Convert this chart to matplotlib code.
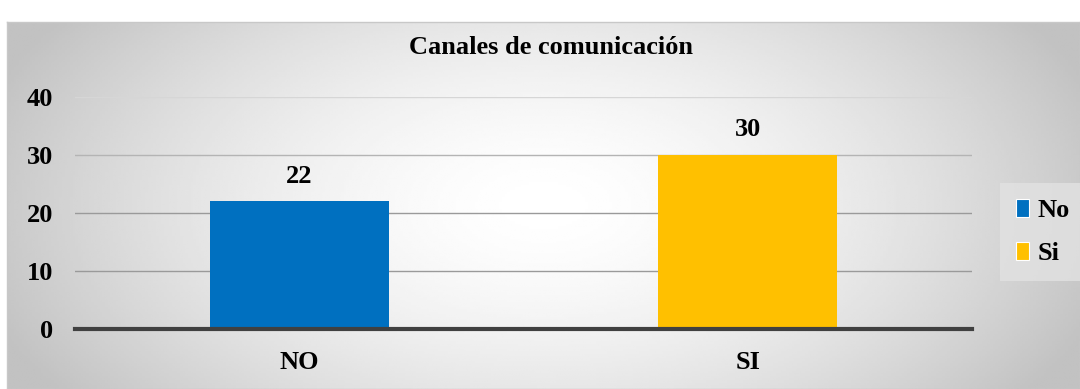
import numpy as np
import matplotlib
matplotlib.use("Agg")
import matplotlib.pyplot as plt
from matplotlib.patches import Patch

# data
categories = ["NO", "SI"]
values = [22, 30]
series_names = ["No", "Si"]
colors = ["#0070C0", "#FFC000"]
y_ticks = [0, 10, 20, 30, 40]
title = "Canales de comunicación"

W, H, DPI = 1080, 389, 100
plt.rcParams["font.family"] = ["Liberation Serif", "DejaVu Serif"]
plt.rcParams["font.weight"] = "bold"
FS = 19

fig = plt.figure(figsize=(W / DPI, H / DPI), dpi=DPI)
fig.patch.set_facecolor("white")

# radial grey background of the chart area
bx0, by0 = 7, 22
bg = fig.add_axes([bx0 / W, 0, (W - bx0) / W, (H - by0) / H], zorder=0)
gx, gy = np.meshgrid(np.linspace(0, 1, 400), np.linspace(0, 1, 150))
r = np.sqrt(((gx - 0.5) / 0.55) ** 2 + ((gy - 0.5) / 0.9) ** 2)
val = 1.0 - 0.24 * np.clip(r, 0, 1) ** 1.6
bg.imshow(val, cmap="gray", vmin=0, vmax=1, aspect="auto",
          extent=[0, 1, 0, 1], interpolation="bilinear")
bg.set_xticks([])
bg.set_yticks([])
for s in bg.spines.values():
    s.set_color("#c8c8c8")
    s.set_linewidth(1)

# main plot
px0, px1 = 75, 972
py_top, py_bot = 97, 329
ax = fig.add_axes([px0 / W, (H - py_bot) / H, (px1 - px0) / W, (py_bot - py_top) / H], zorder=1)
ax.patch.set_alpha(0)

x = np.arange(len(categories))
bars = ax.bar(x, values, width=0.4, color=colors, zorder=3)
ax.set_xlim(-0.5, len(categories) - 0.5)
ax.set_ylim(0, 40)
ax.set_yticks(y_ticks)
ax.set_yticklabels([str(t) for t in y_ticks], fontsize=FS, fontweight="bold")
ax.set_xticks(x)
ax.set_xticklabels(categories, fontsize=FS, fontweight="bold")
ax.tick_params(axis="both", length=0)
ax.tick_params(axis="y", pad=16)
ax.tick_params(axis="x", pad=16)
for s in ax.spines.values():
    s.set_visible(False)

ax.grid(axis="y", color="#a0a0a0", linewidth=1.0, zorder=1)
grid_cols = ["#a0a0a0", "#9a9a9a", "#9a9a9a", "#b4b4b4", "#d6d6d6"]
for gl, c in zip(ax.yaxis.get_gridlines(), grid_cols):
    gl.set_color(c)
ax.axhline(0, color="#404040", linewidth=3, zorder=4, clip_on=False)

for b, v in zip(bars, values):
    ax.annotate(str(v), (b.get_x() + b.get_width() / 2, v), xytext=(0, 10),
                textcoords="offset points", ha="center", va="bottom",
                fontsize=FS, fontweight="bold")

fig.text(551 / W, 1 - 48 / H, title, ha="center", va="center",
         fontsize=FS, fontweight="bold")

handles = [Patch(facecolor=c, edgecolor="white", linewidth=0.8) for c in colors]
leg = fig.legend(handles, series_names, loc="center left",
                 bbox_to_anchor=(987 / W, 1 - 232 / H), frameon=True,
                 prop={"size": FS, "weight": "bold"}, handlelength=0.5,
                 handleheight=0.7, handletextpad=0.3, labelspacing=0.75,
                 borderpad=0.6, fancybox=False)
leg.get_frame().set_facecolor("#e2e2e2")
leg.get_frame().set_edgecolor("none")

fig.savefig("out.png", dpi=DPI)
